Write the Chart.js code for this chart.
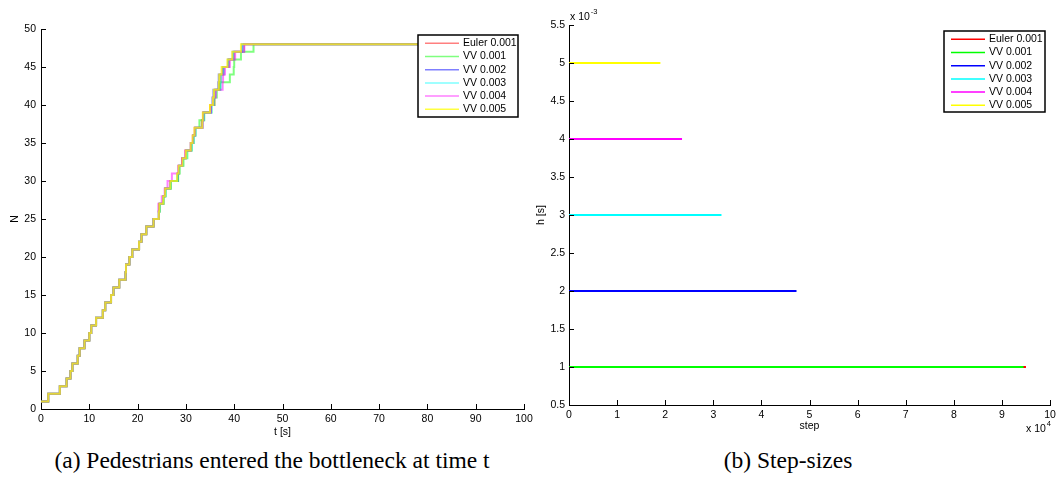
<!DOCTYPE html>
<html>
<head>
<meta charset="utf-8">
<script src="https://cdn.jsdelivr.net/npm/chart.js@4.4.1/dist/chart.umd.min.js"></script>
<style>
  body { margin: 0; background: #fff; width: 1060px; height: 480px; position: relative; overflow: hidden; }
  .panel { position: absolute; top: 0; height: 440px; }
  #panelA { left: 0; width: 540px; }
  #panelB { left: 528px; width: 532px; }
  .caption { position: absolute; top: 447px; font-family: "Liberation Serif", "Times New Roman", serif; font-size: 23.5px; color: #000; white-space: nowrap; transform: translateX(-50%); }
</style>
</head>
<body>
<div class="panel" id="panelA"><canvas id="pedChart"></canvas></div>
<div class="panel" id="panelB"><canvas id="stepChart"></canvas></div>
<div class="caption" style="left:272px">(a) Pedestrians entered the bottleneck at time t</div>
<div class="caption" style="left:788px">(b) Step-sizes</div>
<script>
const seriesLabels = ['Euler 0.001', 'VV 0.001', 'VV 0.002', 'VV 0.003', 'VV 0.004', 'VV 0.005'];
const seriesColors = ['#ff0000', '#00ff00', '#0000ff', '#00ffff', '#ff00ff', '#ffff00'];
const lineAlpha = [0.5, 0.5, 0.5, 0.5, 0.5, 0.75];

// times [s] at which N goes up by one, N = 2 ... 26 (identical for all runs)
const sharedArrivals = [1.5, 3.9, 5.3, 6.1, 6.5, 7.6, 8.0, 9.0, 10.0, 10.4, 11.4, 12.8, 13.3,
  14.5, 15.0, 16.2, 17.5, 17.6, 18.3, 18.9, 20.3, 20.8, 21.8, 23.3, 24.4];
// N = 27 ... 48, per run
const arrivalsEuler001 = [24.5, 25.3, 25.7, 26.8, 28.3, 28.6, 29.2, 29.9, 31.1, 31.5, 31.8,
  33.3, 33.6, 35.0, 35.9, 36.0, 37.0, 37.2, 37.8, 38.9, 40.0, 42.0];
const arrivalsVV001 = [24.6, 25.4, 25.8, 26.9, 28.4, 28.7, 29.5, 30.3, 31.2, 31.6, 32.0,
  32.8, 33.8, 35.3, 35.9, 36.4, 37.1, 39.1, 39.9, 40.0, 41.4, 44.0];
const arrivalsVV002 = [24.5, 25.3, 25.7, 26.8, 28.3, 28.5, 29.3, 30.0, 31.0, 31.5, 31.9,
  33.4, 33.6, 35.2, 35.5, 35.7, 36.7, 36.8, 37.6, 38.7, 39.7, 41.6];
const arrivalsVV003 = [24.6, 25.3, 25.8, 26.9, 28.3, 28.6, 29.4, 30.1, 31.2, 31.6, 32.0,
  33.5, 33.7, 35.3, 35.8, 36.1, 37.2, 37.3, 37.9, 38.9, 39.9, 41.9];
const arrivalsVV004 = [24.3, 25.0, 25.6, 26.2, 27.1, 28.4, 29.2, 29.9, 31.0, 31.4, 31.9,
  33.5, 33.6, 35.2, 35.7, 36.2, 37.6, 37.7, 38.1, 39.1, 40.2, 42.1];
const arrivalsVV005 = [24.5, 25.3, 25.7, 26.8, 28.2, 28.5, 29.3, 30.0, 31.0, 31.4, 31.8,
  33.4, 33.5, 35.0, 35.6, 35.8, 36.8, 36.9, 37.4, 38.6, 39.6, 41.4];
const runTails = [arrivalsEuler001, arrivalsVV001, arrivalsVV002, arrivalsVV003, arrivalsVV004, arrivalsVV005];
const startN = 1;
const tEnd = 98;

// step sizes h [s] and number of steps per run
const stepH = [0.001, 0.001, 0.002, 0.003, 0.004, 0.005];
const stepCount = [95000, 94500, 47300, 31700, 23500, 19000];

Chart.defaults.font.family = '"Liberation Sans", Arial, Helvetica, sans-serif';
Chart.defaults.font.size = 10.5;
Chart.defaults.color = '#000';

function withAlpha(hex, a) {
  const n = parseInt(hex.slice(1), 16);
  return `rgba(${n >> 16},${(n >> 8) & 255},${n & 255},${a})`;
}

function stairPoints(tail) {
  const times = sharedArrivals.concat(tail);
  const pts = [{x: 0, y: startN}];
  times.forEach((t, i) => pts.push({x: t, y: startN + i + 1}));
  pts.push({x: tEnd, y: pts[pts.length - 1].y});
  return pts;
}

// inward ticks, exponent labels and a boxed legend
const matlabAxes = {
  id: 'matlabAxes',
  afterDraw(chart, args, opts) {
    const {ctx, chartArea: a} = chart;
    const x = chart.scales.x, y = chart.scales.y;
    ctx.save();
    ctx.strokeStyle = '#000';
    ctx.lineWidth = 1;
    ctx.beginPath();
    x.ticks.forEach((t, i) => {
      const px = Math.round(x.getPixelForTick(i)) + 0.5;
      ctx.moveTo(px, a.bottom); ctx.lineTo(px, a.bottom - 5);
    });
    y.ticks.forEach((t, i) => {
      const py = Math.round(y.getPixelForTick(i)) + 0.5;
      ctx.moveTo(a.left, py); ctx.lineTo(a.left + 5, py);
    });
    ctx.stroke();

    ctx.fillStyle = '#000';
    ctx.textBaseline = 'middle';
    ctx.textAlign = 'left';
    (opts.exponents || []).forEach(e => {
      const ex = e.side === 'top' ? a.left + 1 : a.right - 24;
      const ey = e.side === 'top' ? a.top - 8 : a.bottom + 24;
      ctx.font = '10.5px "Liberation Sans", Arial, sans-serif';
      ctx.fillText('x 10', ex, ey);
      const w = ctx.measureText('x 10').width;
      ctx.font = '7.5px "Liberation Sans", Arial, sans-serif';
      ctx.fillText(e.power, ex + w + 1, ey - 5);
    });

    const lg = opts.legend;
    if (lg) {
      ctx.fillStyle = '#fff';
      ctx.fillRect(lg.x, lg.y, lg.w, lg.h);
      ctx.lineWidth = 1.5;
      ctx.strokeStyle = '#000';
      ctx.strokeRect(lg.x, lg.y, lg.w, lg.h);
      ctx.font = '10.5px "Liberation Sans", Arial, sans-serif';
      chart.data.datasets.forEach((ds, i) => {
        const ry = lg.y + 8.3 + i * 13.2;
        ctx.strokeStyle = ds.borderColor;
        ctx.lineWidth = 1.5;
        ctx.beginPath();
        ctx.moveTo(lg.x + 7, ry); ctx.lineTo(lg.x + 41, ry);
        ctx.stroke();
        ctx.fillStyle = '#000';
        ctx.fillText(ds.label, lg.x + 45, ry);
      });
    }
    ctx.restore();
  }
};

function axisBase() {
  return {
    type: 'linear',
    grid: {display: false, drawTicks: false},
    border: {display: true, color: '#000', width: 1},
    ticks: {color: '#000', padding: 4, maxRotation: 0, autoSkip: false}
  };
}

new Chart(document.getElementById('pedChart'), {
  type: 'line',
  data: {
    datasets: seriesLabels.map((label, i) => ({
      label,
      data: stairPoints(runTails[i]),
      borderColor: withAlpha(seriesColors[i], lineAlpha[i]),
      borderWidth: 2,
      pointRadius: 0,
      stepped: 'before',
      fill: false,
      order: seriesLabels.length - i
    }))
  },
  options: {
    responsive: true,
    maintainAspectRatio: false,
    animation: false,
    layout: {padding: {top: 29, right: 16, left: 0, bottom: 0}},
    plugins: {
      legend: {display: false},
      tooltip: {enabled: false},
      matlabAxes: {legend: {x: 418, y: 35, w: 100, h: 82}}
    },
    scales: {
      x: Object.assign(axisBase(), {
        min: 0, max: 100,
        ticks: Object.assign(axisBase().ticks, {stepSize: 10}),
        title: {display: true, text: 't [s]', color: '#000', padding: {top: 0, bottom: 2}},
        afterFit(s) { s.height = 31; }
      }),
      y: Object.assign(axisBase(), {
        min: 0, max: 50,
        ticks: Object.assign(axisBase().ticks, {stepSize: 5, padding: 5}),
        title: {display: true, text: 'N', color: '#000', padding: {top: 9, bottom: 0}},
        afterFit(s) { s.width = 41; }
      })
    }
  },
  plugins: [matlabAxes]
});

new Chart(document.getElementById('stepChart'), {
  type: 'line',
  data: {
    datasets: seriesLabels.map((label, i) => ({
      label,
      data: [{x: 0, y: stepH[i]}, {x: stepCount[i], y: stepH[i]}],
      borderColor: seriesColors[i],
      borderWidth: 2,
      pointRadius: 0,
      fill: false,
      order: seriesLabels.length - i
    }))
  },
  options: {
    responsive: true,
    maintainAspectRatio: false,
    animation: false,
    layout: {padding: {top: 25, right: 10, left: 0, bottom: 0}},
    plugins: {
      legend: {display: false},
      tooltip: {enabled: false},
      matlabAxes: {
        legend: {x: 416, y: 31, w: 101, h: 81},
        exponents: [{side: 'top', power: '-3'}, {side: 'bottom', power: '4'}]
      }
    },
    scales: {
      x: Object.assign(axisBase(), {
        min: 0, max: 100000,
        ticks: Object.assign(axisBase().ticks, {stepSize: 10000, callback: v => String(v / 10000)}),
        title: {display: true, text: 'step', color: '#000', padding: {top: 0, bottom: 8}},
        afterFit(s) { s.height = 35; }
      }),
      y: Object.assign(axisBase(), {
        min: 0.0005, max: 0.0055,
        ticks: Object.assign(axisBase().ticks, {stepSize: 0.0005, padding: 4, callback: v => String(Math.round(v * 10000) / 10)}),
        title: {display: true, text: 'h [s]', color: '#000', padding: {top: 7, bottom: 0}},
        afterFit(s) { s.width = 41; }
      })
    }
  },
  plugins: [matlabAxes]
});
</script>
</body>
</html>
